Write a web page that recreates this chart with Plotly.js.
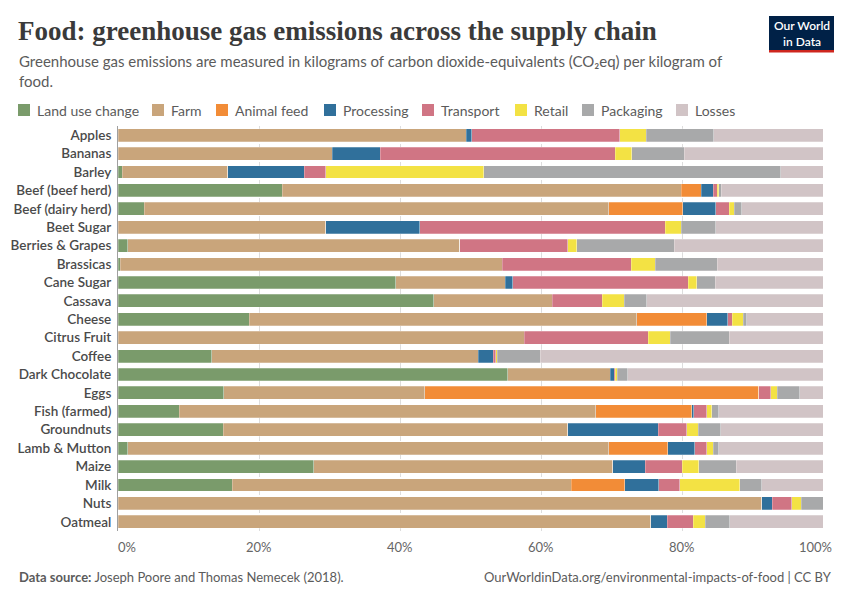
<!DOCTYPE html>
<html>
<head>
<meta charset="utf-8">
<script src="https://cdn.plot.ly/plotly-3.0.1.min.js"></script>
<style>html,body{margin:0;padding:0;background:#fff;}#chart{width:850px;height:600px;}</style>
</head>
<body>
<div id="chart"></div>
<script>
const categories = ['Apples','Bananas','Barley','Beef (beef herd)','Beef (dairy herd)','Beet Sugar','Berries & Grapes','Brassicas','Cane Sugar','Cassava','Cheese','Citrus Fruit','Coffee','Dark Chocolate','Eggs','Fish (farmed)','Groundnuts','Lamb & Mutton','Maize','Milk','Nuts','Oatmeal'];
const landUse    = [0, 0, 0.6, 23.3, 3.7, 0, 1.4, 0.3, 39.4, 44.8, 18.6, 0, 13.3, 55.3, 15.0, 8.7, 14.9, 1.4, 27.8, 16.2, 0, 0];
const farm       = [49.4, 30.4, 15.0, 56.6, 65.9, 29.5, 47.1, 54.2, 15.5, 16.8, 55.0, 57.6, 37.8, 14.5, 28.5, 59.1, 48.9, 68.2, 42.4, 48.1, 91.3, 75.6];
const animalFeed = [0, 0, 0, 2.8, 10.5, 0, 0, 0, 0, 0, 9.9, 0, 0, 0, 47.4, 13.6, 0, 8.4, 0, 7.6, 0, 0];
const processing = [0.8, 6.8, 10.8, 1.7, 4.7, 13.3, 0, 0, 1.1, 0, 3.0, 0, 2.1, 0.6, 0, 0.3, 12.8, 3.8, 4.6, 4.8, 1.5, 2.3];
const transport  = [21.0, 33.3, 3.1, 0.6, 1.9, 34.8, 15.3, 18.3, 24.9, 7.1, 0.6, 17.6, 0.4, 0.1, 1.7, 1.8, 4.1, 1.7, 5.2, 3.0, 2.8, 3.7];
const retail     = [3.7, 2.4, 22.4, 0.2, 0.7, 2.3, 1.3, 3.4, 1.2, 3.1, 1.6, 3.1, 0.2, 0.3, 0.9, 0.7, 1.6, 0.9, 2.4, 8.5, 1.3, 1.7];
const packaging  = [9.6, 7.4, 42.1, 0.4, 1.1, 4.9, 13.8, 8.8, 2.6, 3.2, 0.5, 8.4, 6.1, 1.5, 3.2, 1.0, 3.2, 0.8, 5.3, 3.1, 3.1, 3.5];
const losses     = [15.5, 19.7, 6.0, 14.5, 11.5, 15.2, 21.1, 15.0, 15.3, 25.0, 10.8, 13.3, 40.1, 27.7, 3.3, 14.8, 14.5, 14.8, 12.3, 8.7, 0, 13.2];

const seriesNames = ['Land use change','Farm','Animal feed','Processing','Transport','Retail','Packaging','Losses'];
const seriesValues = [landUse, farm, animalFeed, processing, transport, retail, packaging, losses];
const seriesColors = ['#7a9b6b','#c9a57b','#f28c37','#30709b','#d07584','#f3e244','#a8a9aa','#d1c4c6'];
const xTicks = [0, 20, 40, 60, 80, 100];

const W = 850, H = 600;
const M = {l: 118, r: 27, t: 126, b: 69};
const PW = W - M.l - M.r, PH = H - M.t - M.b;
const px = x => (x - M.l) / PW;
const py = y => 1 - (y - M.t) / PH;

const traces = seriesNames.map((name, i) => ({
  type: 'bar', orientation: 'h', name: name,
  y: categories, x: seriesValues[i],
  marker: {color: seriesColors[i], line: {color: 'rgba(255,255,255,0.5)', width: 0.5}},
  hoverinfo: 'skip', showlegend: false
}));

const FONT = 'Lato, "Open Sans", sans-serif';
const annotations = [];
const shapes = [];

// Title & subtitle
annotations.push({xref:'paper', yref:'paper', x: px(16), y: py(31), xanchor:'left', yanchor:'middle', showarrow:false,
  text:'<b>Food: greenhouse gas emissions across the supply chain</b>',
  font:{family:'"Liberation Serif", "DejaVu Serif", serif', size:27, color:'#3a3a3a'}});
annotations.push({xref:'paper', yref:'paper', x: px(17), y: py(71), xanchor:'left', yanchor:'middle', align:'left', showarrow:false,
  text:'Greenhouse gas emissions are measured in kilograms of carbon dioxide-equivalents (CO₂eq) per kilogram of<br>food.',
  font:{family:FONT, size:15, color:'#5b5b5b'}});

// Logo
shapes.push({type:'rect', xref:'paper', yref:'paper', x0:px(769), x1:px(834), y0:py(16), y1:py(50), fillcolor:'#002147', line:{width:0}, layer:'above'});
shapes.push({type:'rect', xref:'paper', yref:'paper', x0:px(769), x1:px(834), y0:py(50), y1:py(52.5), fillcolor:'#ce261e', line:{width:0}, layer:'above'});
annotations.push({xref:'paper', yref:'paper', x: px(801.5), y: py(33), xanchor:'center', yanchor:'middle', showarrow:false,
  text:'Our World<br>in Data', font:{family:FONT, size:12, color:'#ffffff', weight:600}});

// Legend (custom)
const legendX = [18, 152, 216, 324, 422, 515, 582, 676];
seriesNames.forEach((n, i) => {
  shapes.push({type:'rect', xref:'paper', yref:'paper', x0:px(legendX[i]), x1:px(legendX[i]+12), y0:py(104), y1:py(116),
    fillcolor:seriesColors[i], line:{width:0}});
  annotations.push({xref:'paper', yref:'paper', x:px(legendX[i]+17), y:py(110), xanchor:'left', yanchor:'middle', showarrow:false,
    text:n, font:{family:FONT, size:14, color:'#5b5b5b'}});
});

// X tick labels (OWID style: end labels nudged inward)
xTicks.forEach((v, i) => {
  const shift = i === 0 ? 9 : (i === xTicks.length - 1 ? -8 : 0);
  annotations.push({xref:'x', yref:'paper', x:v, y:py(547), xanchor:'center', yanchor:'middle', xshift:shift, showarrow:false,
    text: v + '%', font:{family:FONT, size:13, color:'#666666'}});
});

// Footer
annotations.push({xref:'paper', yref:'paper', x:px(17), y:py(577), xanchor:'left', yanchor:'middle', showarrow:false,
  text:'<b>Data source:</b> Joseph Poore and Thomas Nemecek (2018).', font:{family:FONT, size:13, color:'#5b5b5b'}});
annotations.push({xref:'paper', yref:'paper', x:px(834), y:py(577), xanchor:'right', yanchor:'middle', showarrow:false,
  text:'OurWorldinData.org/environmental-impacts-of-food | CC BY', font:{family:FONT, size:13, color:'#5b5b5b'}});

const layout = {
  width: W, height: H,
  margin: M,
  paper_bgcolor:'#fff', plot_bgcolor:'#fff',
  barmode:'stack', bargap:0.3,
  showlegend:false,
  font:{family:FONT, color:'#5b5b5b'},
  xaxis:{range:[0,100], tickvals:xTicks, showticklabels:false,
    showgrid:true, gridcolor:'#dddddd', griddash:'dash', gridwidth:1, zeroline:false, showline:false,
    ticks:'', fixedrange:true},
  yaxis:{type:'category', autorange:'reversed', showgrid:false, zeroline:false,
    showline:true, linecolor:'#a0a0a0', linewidth:1, ticks:'', ticklabelstandoff:3,
    tickfont:{family:FONT, size:13.5, color:'#4a4a4a', weight:600}, fixedrange:true},
  annotations: annotations,
  shapes: shapes
};

Plotly.newPlot('chart', traces, layout, {displayModeBar:false, staticPlot:true});
</script>
</body>
</html>
